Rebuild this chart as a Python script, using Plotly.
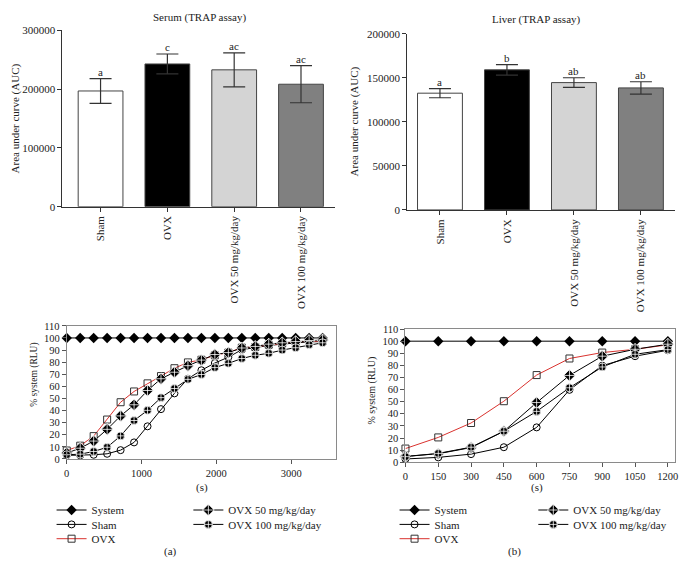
import plotly.graph_objects as go

W, H = 687, 572
FONT = "Liberation Serif"
INK = "#222222"

# ---------------- data ----------------
groups = ["Sham", "OVX", "OVX 50 mg/kg/day", "OVX 100 mg/kg/day"]
group_pos = [0, 1, 2, 3]
bar_fill = ["#ffffff", "#000000", "#d4d4d4", "#808080"]

serum_auc = [197000, 243000, 233000, 208500]
serum_sem = [21000, 17000, 29000, 31500]
serum_letters = ["a", "c", "ac", "ac"]

liver_auc = [132500, 159000, 144500, 138500]
liver_sem = [5200, 6000, 5500, 7000]
liver_letters = ["a", "b", "ab", "ab"]

time_a = [0, 180, 360, 540, 720, 900, 1080, 1260, 1440, 1620,
          1800, 1980, 2160, 2340, 2520, 2700, 2880, 3060, 3240, 3420]
system_a = [100, 100, 100, 100, 100, 100, 100, 100, 100, 100,
            100, 100, 100, 100, 100, 100, 100, 100, 100, 100]
sham_a = [3, 3, 3.5, 4.3, 7.3, 13.7, 27, 41.2, 54.2, 66.3,
          73.3, 79.3, 84.1, 90.3, 92.2, 93.8, 94.9, 96, 96.8, 97]
ovx_a = [7, 11, 18.9, 32.6, 46.9, 55.8, 62.5, 68.5, 75, 79.8,
         82, 85.7, 87.9, 92, 92.5, 94.4, 95.4, 97, 97, 97.6]
ovx50_a = [4.9, 8.9, 14.8, 24.5, 35.6, 44.8, 56.6, 66.3, 71.7, 77.1,
           81.7, 86.3, 87.9, 91.7, 93, 94.9, 96, 97, 97.9, 98.4]
ovx100_a = [3.5, 4, 6.2, 9.7, 19.1, 31.8, 40.2, 50.7, 58.2, 65.8,
            69.8, 75.5, 79, 83, 85.7, 87.3, 90, 91.9, 94.4, 96]

time_b = [0, 150, 300, 450, 600, 750, 900, 1050, 1200]
system_b = [100, 100, 100, 100, 100, 100, 100, 100, 100]
sham_b = [2.7, 4, 6.7, 12.4, 28.8, 59.8, 79.8, 87.6, 92.5]
ovx_b = [11.3, 20.5, 32.4, 50.4, 72, 85.7, 90.6, 93.3, 97]
ovx50_b = [4.9, 7, 12.1, 25.6, 49.3, 71.7, 87.6, 93.3, 97.5]
ovx100_b = [4.6, 7.3, 12.4, 25.6, 42, 61.5, 78.7, 89.2, 93]

ticks_a = [0, 1000, 2000, 3000]
ticks_b = [0, 150, 300, 450, 600, 750, 900, 1050, 1200]
ticks_pct = [0, 10, 20, 30, 40, 50, 60, 70, 80, 90, 100, 110]


def px(x):
    return x / W


def py(y):
    return 1 - y / H


fig = go.Figure()

# ---------------- bar charts ----------------
for xa, ya, vals, errs in [("x", "y", serum_auc, serum_sem),
                           ("x2", "y2", liver_auc, liver_sem)]:
    fig.add_trace(go.Bar(
        x=group_pos, y=vals, xaxis=xa, yaxis=ya, width=0.67,
        marker=dict(color=bar_fill, line=dict(color="#444444", width=1)),
        error_y=dict(type="data", array=errs, color="#333333", thickness=1.2, width=11),
        showlegend=False, hoverinfo="skip"))

# ---------------- line charts ----------------
series_style = {
    "System": dict(line=dict(color="#000000", width=1),
                   marker=dict(symbol="diamond", size=8, color="#000000")),
    "Sham": dict(line=dict(color="#000000", width=1),
                 marker=dict(symbol="circle-open", size=7, color="#000000",
                             line=dict(width=1))),
    "OVX": dict(line=dict(color="#d9322e", width=1),
                marker=dict(symbol="square-open", size=7, color="#333333",
                            line=dict(width=1))),
    "OVX 50 mg/kg/day": dict(line=dict(color="#000000", width=1),
                             marker=dict(symbol="diamond-cross", size=9, color="#000000",
                                         line=dict(color="#ffffff", width=0.8))),
    "OVX 100 mg/kg/day": dict(line=dict(color="#000000", width=1),
                              marker=dict(symbol="circle-cross", size=8, color="#000000",
                                          line=dict(color="#ffffff", width=0.8))),
}

panel_a = [("System", system_a), ("Sham", sham_a), ("OVX", ovx_a),
           ("OVX 50 mg/kg/day", ovx50_a), ("OVX 100 mg/kg/day", ovx100_a)]
panel_b = [("System", system_b), ("Sham", sham_b), ("OVX", ovx_b),
           ("OVX 50 mg/kg/day", ovx50_b), ("OVX 100 mg/kg/day", ovx100_b)]

# one legend per entry so rows can sit as tightly as in the reference
legend_pos = {
    # name: (column index, row index)
    "System": (0, 0), "Sham": (0, 1), "OVX": (0, 2),
    "OVX 50 mg/kg/day": (1, 0), "OVX 100 mg/kg/day": (1, 1),
}
col_text_x = {"a": [90, 228], "b": [436, 576]}
row_center_y = [511, 525.7, 540.3]

leg_common = dict(orientation="v", xanchor="left", yanchor="top",
                  bgcolor="rgba(0,0,0,0)", font=dict(family=FONT, size=11, color=INK),
                  itemwidth=30, tracegroupgap=0, traceorder="normal")
legend_layout = {}
leg_idx = 0
for key, t, panel, xa, ya in [("a", time_a, panel_a, "x3", "y3"),
                              ("b", time_b, panel_b, "x4", "y4")]:
    for name, vals in panel:
        leg_idx += 1
        lname = "legend" if leg_idx == 1 else "legend%d" % leg_idx
        col, row = legend_pos[name]
        legend_layout[lname] = dict(leg_common,
                                    x=px(col_text_x[key][col] - 41),
                                    y=py(row_center_y[row] - 11))
        st = series_style[name]
        fig.add_trace(go.Scatter(
            x=t, y=vals, name=name, mode="lines+markers", xaxis=xa, yaxis=ya,
            line=st["line"], marker=st["marker"], legend=lname,
            cliponaxis=False, hoverinfo="skip"))

# ---------------- axes ----------------
tickfont = dict(family=FONT, size=11, color=INK)
bar_x = dict(tickmode="array", tickvals=group_pos, ticktext=groups, tickangle=-90,
             showline=True, linecolor="#333333", linewidth=1, ticks="outside",
             ticklen=4, tickcolor="#333333", tickfont=tickfont, showgrid=False,
             zeroline=False)
bar_y = dict(showline=True, linecolor="#333333", linewidth=1, ticks="outside",
             ticklen=4, tickcolor="#333333", tickfont=tickfont, showgrid=False,
             zeroline=False, tickformat="d")
line_x = dict(showline=True, mirror=True, linecolor="#8a8a8a", linewidth=1,
              ticks="outside", ticklen=4, tickcolor="#555555",
              tickfont=dict(family=FONT, size=10.5, color=INK),
              showgrid=False, zeroline=False, tickmode="array")
line_y = dict(showline=True, mirror=True, linecolor="#8a8a8a", linewidth=1,
              ticks="outside", ticklen=4, tickcolor="#555555",
              tickfont=dict(family=FONT, size=10.5, color=INK),
              showgrid=False, zeroline=False, tickmode="array",
              tickvals=ticks_pct, range=[0, 110])

fig.update_layout(
    width=W, height=H, margin=dict(l=0, r=0, t=0, b=0),
    paper_bgcolor="white", plot_bgcolor="white",
    font=dict(family=FONT, size=11, color=INK),
    bargap=0,
    xaxis=dict(bar_x, domain=[px(60), px(335)], range=[-0.57, 3.51], anchor="y"),
    yaxis=dict(bar_y, domain=[py(205), py(25)], range=[0, 300000],
               tickvals=[0, 100000, 200000, 300000], anchor="x"),
    xaxis2=dict(bar_x, domain=[px(407.7), px(678)], range=[-0.49, 3.51], anchor="y2"),
    yaxis2=dict(bar_y, domain=[py(208.3), py(28.3)], range=[0, 200000],
                tickvals=[0, 50000, 100000, 150000, 200000], anchor="x2"),
    xaxis3=dict(line_x, domain=[px(64.3), px(336)], range=[0, 3600],
                tickvals=ticks_a, anchor="y3"),
    yaxis3=dict(line_y, domain=[py(462.7), py(326.7)], anchor="x3"),
    xaxis4=dict(line_x, domain=[px(406), px(678)], range=[0, 1233],
                tickvals=ticks_b, anchor="y4"),
    yaxis4=dict(line_y, domain=[py(466), py(330)], anchor="x4"),
    **legend_layout,
)

# ---------------- annotations ----------------
ann = []


def text(x, y, s, size=11, angle=0):
    ann.append(dict(x=px(x), y=py(y), xref="paper", yref="paper", text=s,
                    showarrow=False, textangle=angle,
                    font=dict(family=FONT, size=size, color=INK),
                    xanchor="center", yanchor="middle"))


text(198, 12, "Serum (TRAP assay)")
text(538, 14, "Liver (TRAP assay)")
text(13, 115, "Area under curve (AUC)", angle=-90)
text(355, 118, "Area under curve (AUC)", angle=-90)
text(31, 377, "% system (RLU)", size=9.5, angle=-90)
text(372, 393, "% system (RLU)", size=10, angle=-90)
text(201, 492, "(s)")
text(539, 492, "(s)")
text(169, 557, "(a)")
text(516, 557, "(b)")

for xa, ya, vals, errs, lets in [("x", "y", serum_auc, serum_sem, serum_letters),
                                 ("x2", "y2", liver_auc, liver_sem, liver_letters)]:
    for i, v in enumerate(vals):
        ann.append(dict(x=group_pos[i], y=v + errs[i], xref=xa, yref=ya, text=lets[i],
                        showarrow=False, yanchor="bottom", yshift=-1,
                        font=dict(family=FONT, size=11, color=INK)))

fig.update_layout(annotations=ann)

fig.write_html("out.html",
               config={"displayModeBar": False, "staticPlot": True},
               post_script="document.body.style.margin='0';document.body.style.padding='0';")
